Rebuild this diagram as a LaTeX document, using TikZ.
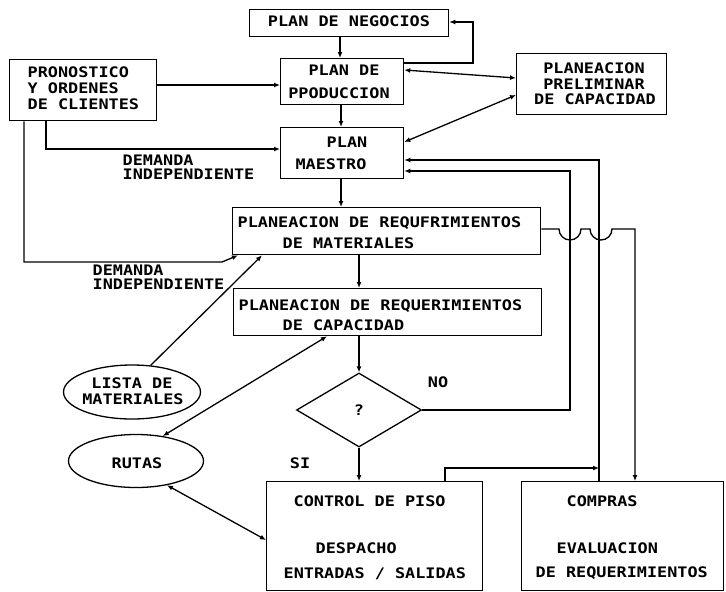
\documentclass[tikz,border=0pt]{standalone}
\usepackage{fontspec}
\newfontfamily\plotfont[FakeStretch=1.16]{DejaVu Sans Mono}
\usetikzlibrary{arrows.meta,shapes.geometric}
\begin{document}
\begin{tikzpicture}[x=1pt,y=-1pt,
  line width=1.3pt,
  box/.style={draw,rectangle,inner sep=0pt,anchor=north west},
  oval/.style={draw,ellipse,inner sep=0pt},
  txt/.style={font=\plotfont\bfseries\fontsize{14.5}{14.5}\selectfont,inner sep=0pt,text height=10.5pt,text depth=0pt},
  lt/.style={txt,anchor=west},
  arr/.style={-{Latex[length=6pt,width=5pt]}},
  darr/.style={{Latex[length=6pt,width=5pt]}-{Latex[length=6pt,width=5pt]}}
]
\path[use as bounding box,fill=white] (0,0) rectangle (726,592);

% boxes
\node[box,minimum width=199pt,minimum height=27pt] (neg) at (249,9) {};
\node[box,minimum width=123pt,minimum height=46pt] (prod) at (280,58) {};
\node[box,minimum width=150pt,minimum height=61pt] (pre) at (516,53) {};
\node[box,minimum width=147pt,minimum height=61pt] (pron) at (9,59) {};
\node[box,minimum width=123pt,minimum height=51pt] (mae) at (280,127) {};
\node[box,minimum width=308pt,minimum height=47pt] (mrp) at (232,207) {};
\node[box,minimum width=308pt,minimum height=47pt] (cap) at (233,288) {};
\node[box,minimum width=216pt,minimum height=109pt] (ctl) at (266,481) {};
\node[box,minimum width=202pt,minimum height=109pt] (com) at (521,481) {};
\node[draw,diamond,inner sep=0pt,minimum width=125pt,minimum height=74pt,txt] (dia) at (359,410) {?};
\node[oval,minimum width=137pt,minimum height=54pt] (lista) at (132,392) {};
\node[oval,minimum width=135pt,minimum height=53pt] (rutas) at (136,461) {};

% texts
\node[txt] (t1) at (349,21) {PLAN DE NEGOCIOS};
\node[txt] (t2) at (344,70) {PLAN DE};
\node[txt] (t3) at (339,93) {PPODUCCION};
\node[txt] (t4) at (594,68) {PLANEACION};
\node[txt] (t5) at (594,84) {PRELIMINAR};
\node[txt] (t6) at (595,99) {DE CAPACIDAD};
\node[lt] (t7) at (27,72) {PRONOSTICO};
\node[lt] (t8) at (27,88) {Y ORDENES};
\node[lt] (t9) at (27,104) {DE CLIENTES};
\node[txt] (t10) at (347,142) {PLAN};
\node[txt] (t11) at (331,164) {MAESTRO};
\node[lt] (t12) at (122,160) {DEMANDA};
\node[lt] (t13) at (122,174) {INDEPENDIENTE};
\node[lt] (t14) at (237,222) {PLANEACION DE REQUFRIMIENTOS};
\node[lt] (t15) at (282,243) {DE MATERIALES};
\node[lt] (t16) at (92,270) {DEMANDA};
\node[lt] (t17) at (92,284) {INDEPENDIENTE};
\node[lt] (t18) at (238,305) {PLANEACION DE REQUERIMIENTOS};
\node[lt] (t19) at (282,325) {DE CAPACIDAD};
\node[txt] (t20) at (132,383) {LISTA DE};
\node[txt] (t21) at (133,399) {MATERIALES};
\node[txt] (t22) at (137,463) {RUTAS};
\node[txt] (t23) at (438,382) {NO};
\node[txt] (t24) at (300,463) {SI};
\node[lt] (t25) at (293,501) {CONTROL DE PISO};
\node[lt] (t26) at (315,548) {DESPACHO};
\node[lt] (t27) at (283,573) {ENTRADAS / SALIDAS};
\node[lt] (t28) at (566,501) {COMPRAS};
\node[lt] (t29) at (556,548) {EVALUACION};
\node[lt] (t30) at (535,572) {DE REQUERIMIENTOS};

% upper chain
\draw[arr] (340,0 |- neg.south) -- (340,0 |- prod.north);
\draw[arr] (prod.east |- 0,63) -- (473,63) -- (473,22) -- (neg.east |- 0,22);
\draw[darr] (prod.east |- 0,70) -- (pre.west |- 0,78);
\draw[darr] (pre.west |- 0,95) -- (mae.east |- 0,142);
\draw[arr] (pron.east |- 0,85) -- (prod.west |- 0,85);
\draw[arr] (46,0 |- pron.south) -- (46,149) -- (mae.west |- 0,149);
\draw[arr] (24,0 |- pron.south) -- (24,262) -- (222,262) -- (238,0 |- mrp.south);
\draw[arr] (341,0 |- prod.south) -- (341,0 |- mae.north);
\draw[arr] (341,0 |- mae.south) -- (341,0 |- mrp.north);
\draw[arr] (359,0 |- mrp.south) -- (359,0 |- cap.north);
\draw[arr] (359,0 |- cap.south) -- (dia.north);
\draw[arr] (dia.south) -- (dia.south |- ctl.north);

% side items
\draw[arr] (lista.55) -- (262,0 |- mrp.south);
\draw[darr] (327,0 |- cap.south) -- (rutas.43);
\draw[darr] (rutas.-38) -- (ctl.west |- 0,540);

% feedback loops
\draw[arr] (dia.east) -- (570,0 |- dia.east) -- (570,171) -- (mae.east |- 0,171);
\draw[arr] (599,0 |- com.north) -- (599,160) -- (mae.east |- 0,160);
\coordinate (join) at (599,468);
\draw[arr] (445,0 |- ctl.north) -- (445,468) -- (join);
\draw[arr] (mrp.east |- 0,229) -- (559,229)
  arc[start angle=180,end angle=360,radius=11pt] -- (590,229)
  arc[start angle=180,end angle=360,radius=11pt] -- (635,229)
  -- (635,0 |- com.north);
\end{tikzpicture}
\end{document}
